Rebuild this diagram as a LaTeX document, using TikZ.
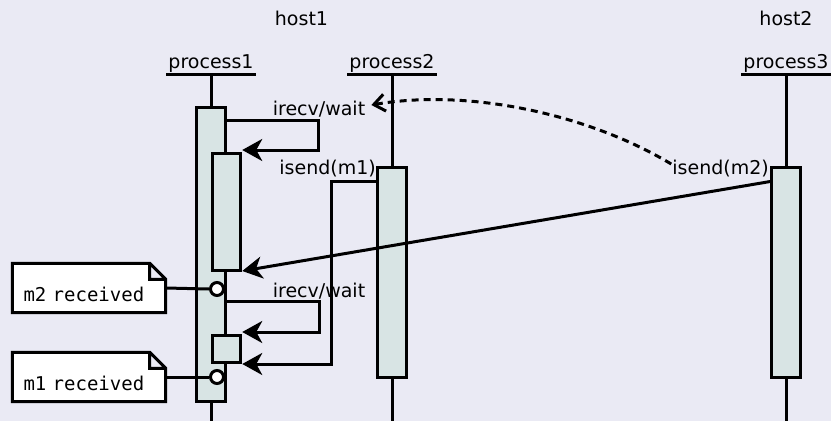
\documentclass[tikz,border=0pt]{standalone}
\usepackage{fontspec}
\setmainfont{DejaVu Sans}
\setsansfont{DejaVu Sans}
\setmonofont{DejaVu Sans Mono}
\usetikzlibrary{arrows.meta}
\usetikzlibrary{positioning}
\pgfdeclarelayer{back}
\pgfsetlayers{back,main}
\definecolor{canvas}{RGB}{234,234,244}
\definecolor{actfill}{RGB}{216,228,228}
\tikzset {
  seq path/.style = {
    draw = black,
    line width = 3pt
  },
  % message with a filled head
  msg/.style = {
    seq path,
    -{Stealth[length=20pt, width=22pt, inset=6pt]}
  },
  % dashed wait line, open head
  wait/.style = {
    seq path,
    dash pattern = on 7pt off 5pt,
    -{Straight Barb[length=11pt, width=17pt]}
  },
  lifeline/.style = {
    seq path
  },
  % outline of a note, folded corner
  note shape/.style = {
    seq path,
    fill = white
  }
}
\tikzset {
  % participant name, underlined
  actor/.style = {
    inner xsep = 2pt,
    inner ysep = 1pt,
    anchor = south
  },
  host/.style = {
    inner sep = 1pt
  },
  % activation bar
  act/.style = {
    draw = black,
    line width = 3pt,
    fill = actfill,
    rectangle,
    minimum width = 28.5pt,
    inner sep = 0,
    anchor = north
  },
  msgtext/.style = {
    inner sep = 1pt
  },
  % receive event
  event/.style = {
    draw = black,
    line width = 3pt,
    fill = white,
    circle,
    minimum size = 13pt,
    inner sep = 0
  },
  % note text, the shape goes on the back layer
  note/.style = {
    rectangle,
    minimum width = 153pt,
    minimum height = 49pt,
    inner xsep = 11pt,
    text width = 131pt,
    align = left,
    text height = 26pt,
    text depth = 0pt,
    font = \fontsize{19}{23}\ttfamily
  }
}
\begin{document}
\begin{tikzpicture}[x=1pt, y=-1pt, font=\fontsize{19}{23}\selectfont]
    \begin{pgfonlayer}{back}
      \fill[canvas] (0,0) rectangle (831,421);
    \end{pgfonlayer}
    \useasboundingbox (0,0) rectangle (831,421);
    \coordinate (bottom) at (0,421);

    \node[host] (host1) at (301.5,18) {host1};
    \node[host] (host2) at (786,18) {host2};

    \node[actor] (process1) at (211,74) {process1};
    \node[actor] (process2) at (392,74) {process2};
    \node[actor] (process3) at (786,74) {process3};

    % life lines
    \foreach \p in {process1, process2, process3}
      \draw[lifeline] (\p.south west) -- (\p.south east)
        (\p.south) -- (\p.south |- bottom);

    % activation bars
    \node[act, minimum height=294pt] (act1) at (211,106) {};
    \node[act, minimum height=117pt] (act1-wait1) at (226.5,152) {};
    \node[act, minimum height=27pt] (act1-wait2) at (226.5,334) {};
    \node[act, minimum height=210pt] (act2) at (392,166) {};
    \node[act, minimum height=210pt] (act3) at (786,166) {};

    % irecv/wait loops
    \draw[msg] (act1.east |- 0,120)
      -- ++(92,0)
      |- ([yshift=2pt]act1-wait1.north east);
    \node[msgtext] (recv1) at (319,109) {irecv/wait};

    \draw[msg] (act1.east |- 0,301)
      -- ++(93,0)
      |- ([yshift=2pt]act1-wait2.north east);
    \node[msgtext] (recv2) at (319,291) {irecv/wait};

    % isend(m1)
    \draw[msg] (act2.west |- 0,181.5)
      -- ++(-45,0)
      |- (act1-wait2.south east);
    \node[msgtext, anchor=east] (send1) at (377,169) {isend(m1)};

    % isend(m2)
    \draw[msg] (act3.west |- 0,181.5)
      -- ([yshift=1pt]act1-wait1.south east);
    \node[msgtext, anchor=east] (send2) at (770,169) {isend(m2)};

    % wait on m2
    \draw[wait] ([yshift=5pt]send2.west)
      .. controls (590,115) and (470,88) ..
      ([shift={(5pt,4pt)}]recv1.east);

    % notes
    \node[note] (note-m2) at (89,288) {m2 received};
    \node[note] (note-m1) at (89,377) {m1 received};
    \begin{pgfonlayer}{back}
      \foreach \n in {note-m2, note-m1}
        \draw[note shape] (\n.south west)
          -- (\n.north west)
          -- ([xshift=-16pt]\n.north east)
          -- ([yshift=-16pt]\n.north east)
          -- (\n.south east)
          -- cycle
          ([xshift=-16pt]\n.north east)
          |- ([yshift=-16pt]\n.north east);
    \end{pgfonlayer}

    \node[event] (got-m2) at (217,289) {};
    \node[event] (got-m1) at (217,377) {};

    \draw[seq path] (note-m2.east) -- (got-m2.west);
    \draw[seq path] (note-m1.east) -- (got-m1.west);
\end{tikzpicture}
\end{document}
